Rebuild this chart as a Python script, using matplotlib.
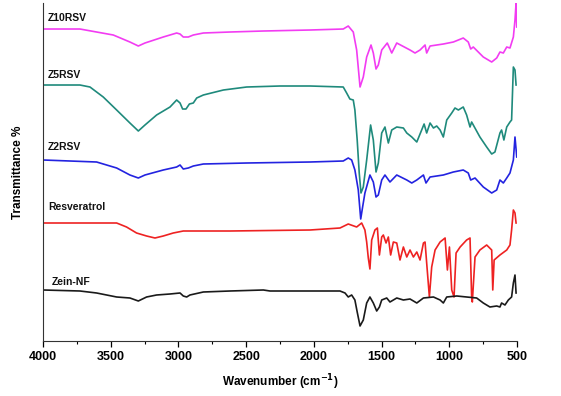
import matplotlib
matplotlib.use("Agg")
import matplotlib.pyplot as plt
from matplotlib.ticker import MultipleLocator

plt.rcParams['font.family'] = ['Liberation Sans', 'DejaVu Sans']

# FTIR spectra: wavenumber (cm-1) and offset transmittance (arb.)
z10_wn = [3998, 3727, 3481, 3358, 3296, 3247, 3112, 3013, 2988, 2964, 2927, 2890, 2816,
          2619, 2373, 2028, 1783, 1746, 1709, 1684, 1659, 1635, 1610, 1578, 1561, 1541,
          1524, 1499, 1458, 1425, 1388, 1290, 1253, 1216, 1179, 1167, 1142, 1044, 970,
          897, 860, 842, 823, 749, 687, 650, 626, 601, 576, 552, 527, 515, 507, 502]
z10_t = [312, 312, 306, 299, 295, 298, 304, 308, 307, 304, 304, 306, 308,
         309, 310, 311, 312, 315, 309, 291, 254, 264, 284, 296, 288, 272,
         276, 291, 298, 288, 298, 291, 288, 291, 296, 288, 295, 297, 299,
         303, 299, 292, 294, 284, 279, 283, 289, 288, 294, 293, 304, 321, 338, 314]

z5_wn = [3998, 3727, 3653, 3555, 3456, 3358, 3296, 3247, 3161, 3062, 3013, 2988, 2969,
         2944, 2919, 2890, 2865, 2816, 2668, 2496, 2250, 2028, 1783, 1758, 1734, 1709,
         1697, 1680, 1665, 1652, 1635, 1610, 1581, 1561, 1541, 1524, 1499, 1475, 1450,
         1425, 1388, 1339, 1314, 1277, 1240, 1204, 1186, 1167, 1142, 1117, 1093, 1068,
         1044, 1019, 982, 958, 933, 897, 872, 847, 835, 774, 724, 687, 663, 626, 614,
         597, 576, 552, 540, 527, 515, 507]
z5_t = [256, 256, 254, 244, 231, 218, 210, 216, 226, 234, 241, 238, 232,
        232, 237, 238, 243, 246, 251, 254, 255, 255, 254, 248, 242, 241,
        231, 201, 168, 148, 154, 181, 216, 201, 169, 178, 208, 214, 198,
        211, 214, 213, 208, 204, 199, 211, 217, 208, 218, 213, 215, 211,
        204, 221, 228, 233, 231, 234, 226, 214, 219, 204, 194, 187, 189, 208, 211,
        201, 214, 219, 221, 274, 271, 256]

z2_wn = [3998, 3604, 3456, 3358, 3296, 3247, 3112, 3013, 2988, 2964, 2927, 2890, 2816,
         2496, 2028, 1783, 1746, 1721, 1697, 1672, 1654, 1640, 1623, 1586, 1561, 1541,
         1524, 1499, 1475, 1438, 1388, 1314, 1277, 1240, 1191, 1172, 1142, 1044, 970,
         897, 860, 842, 810, 749, 687, 650, 626, 601, 576, 552, 527, 515, 502]
z2_t = [181, 179, 173, 166, 163, 166, 171, 174, 176, 172, 173, 175, 177,
        178, 179, 180, 183, 181, 171, 151, 122, 134, 148, 166, 159, 144,
        146, 161, 166, 159, 166, 161, 158, 161, 166, 158, 164, 166, 169,
        171, 168, 161, 163, 154, 148, 151, 161, 158, 163, 168, 181, 204, 184]

rsv_wn = [3998, 3727, 3456, 3383, 3309, 3235, 3173, 3112, 3038, 2964, 2619, 2028, 1807,
          1746, 1684, 1647, 1623, 1610, 1598, 1586, 1573, 1549, 1531, 1516, 1499, 1487,
          1467, 1450, 1433, 1413, 1388, 1364, 1339, 1314, 1290, 1265, 1240, 1216, 1191,
          1179, 1167, 1147, 1130, 1105, 1068, 1031, 1014, 999, 982, 965, 950, 920, 872,
          847, 835, 830, 810, 774, 724, 687, 679, 669, 626, 576, 552, 540, 527, 515, 507]
rsv_t = [118, 118, 118, 114, 108, 105, 103, 105, 108, 110, 110, 111, 113,
         117, 114, 118, 111, 99, 83, 72, 101, 111, 113, 86, 104, 106,
         98, 104, 86, 99, 98, 81, 94, 84, 91, 84, 89, 81, 98,
         99, 78, 44, 74, 91, 99, 103, 71, 94, 51, 44, 88, 94, 101,
         103, 44, 39, 84, 91, 96, 91, 51, 81, 86, 91, 96, 111, 131, 128, 118]

zein_wn = [3998, 3727, 3604, 3456, 3358, 3296, 3235, 3161, 3062, 2988, 2964, 2939, 2915,
           2816, 2619, 2373, 2324, 2028, 1807, 1770, 1746, 1721, 1697, 1680, 1659, 1635,
           1610, 1586, 1561, 1536, 1516, 1499, 1462, 1438, 1388, 1339, 1290, 1240, 1191,
           1117, 1068, 1044, 1019, 945, 872, 798, 749, 700, 650, 626, 614, 589, 564, 540,
           527, 515, 507]
zein_t = [51, 50, 48, 44, 43, 40, 44, 46, 47, 48, 45, 44, 46,
          49, 50, 51, 50, 50, 50, 48, 44, 46, 41, 29, 15, 21,
          38, 44, 38, 30, 34, 41, 43, 39, 43, 41, 42, 38, 43,
          44, 41, 38, 44, 45, 44, 43, 38, 34, 35, 34, 38, 36, 41, 44,
          58, 66, 48]

series = [
    ('Z10RSV', z10_wn, z10_t, '#f23cf2', 323),
    ('Z5RSV', z5_wn, z5_t, '#1f8a7c', 266),
    ('Z2RSV', z2_wn, z2_t, '#2323e0', 194),
    ('Resveratrol', rsv_wn, rsv_t, '#ee2222', 134),
    ('Zein-NF', zein_wn, zein_t, '#1a1a1a', 59),
]

fig = plt.figure(figsize=(5.61, 3.96), dpi=100)
ax = fig.add_axes([0.0766, 0.1389, 0.845, 0.8535])

for name, wn, t, color, label_y in series:
    ax.plot(wn, t, color=color, lw=1.2)
    lx = 3934 if name == 'Zein-NF' else 3963
    ax.text(lx, label_y, name, fontsize=7.5, fontweight='bold', color='#111111',
            ha='left', va='center')

ax.set_xlim(4000, 500)
ax.set_ylim(0, 338)
ax.xaxis.set_major_locator(MultipleLocator(500))
ax.xaxis.set_minor_locator(MultipleLocator(250))
ax.tick_params(axis='x', which='major', direction='out', length=4, width=0.9,
               labelsize=9, pad=3)
ax.tick_params(axis='x', which='minor', direction='out', length=2.5, width=0.8)
for lab in ax.get_xticklabels():
    lab.set_fontweight('bold')
ax.set_yticks([])
ax.spines['top'].set_visible(False)
ax.spines['right'].set_visible(False)
ax.spines['left'].set_color('#333333')
ax.spines['bottom'].set_color('#333333')

ax.set_xlabel('Wavenumber (cm$^{\\mathbf{-1}}$)', fontsize=8.5, fontweight='bold', labelpad=7)
ax.set_ylabel('Transmittance %', fontsize=8.5, fontweight='bold', labelpad=14)

fig.savefig('out.png', dpi=100)
